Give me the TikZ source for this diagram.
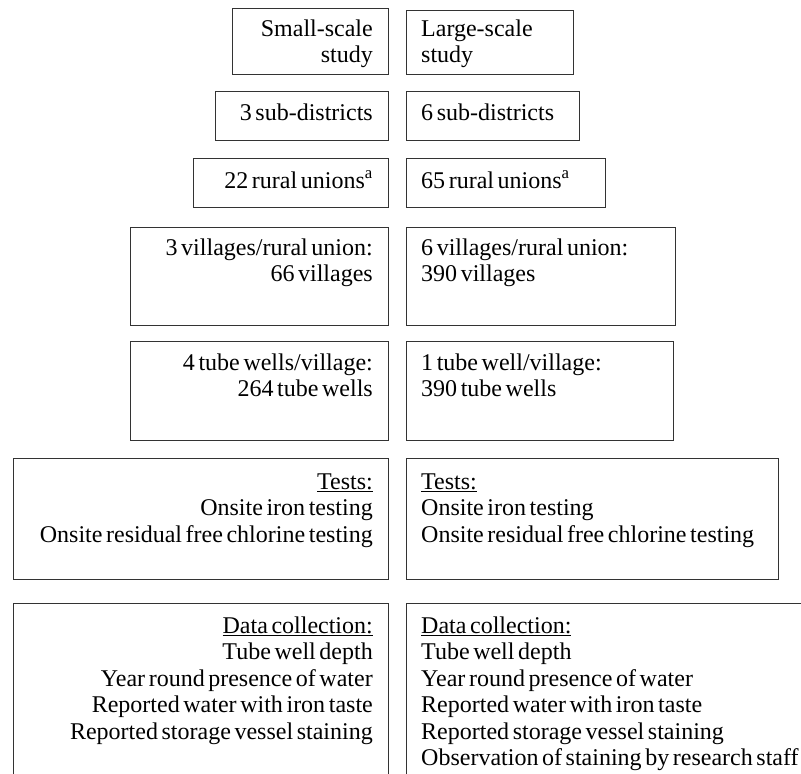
\documentclass[tikz,border=0pt]{standalone}
\usepackage{fontspec}
\setmainfont{Liberation Serif}[WordSpace=0.6]
\begin{document}
\begin{tikzpicture}[x=1pt,y=-1pt,
  box/.style={draw=black!80, line width=1.3pt, rectangle, anchor=north west, inner sep=0pt},
  lt/.style={anchor=base east, inner sep=0pt, font=\fontsize{24}{26.5}\selectfont},
  rt/.style={anchor=base west, inner sep=0pt, font=\fontsize{24}{26.5}\selectfont}]
\useasboundingbox (0,0) rectangle (801,774);
\clip (0,0) rectangle (801,774);
\fill[white] (0,0) rectangle (801,774);
% row 1
\node[box, minimum width=156pt, minimum height=66pt] (L1) at (232,8) {};
\node[box, minimum width=167pt, minimum height=64pt] (R1) at (406,10) {};
\node[lt] (L1t) at (373,36) {\begin{tabular}[t]{@{}r@{}}Small-scale\\study\end{tabular}};
\node[rt] (R1t) at (421,36) {\begin{tabular}[t]{@{}l@{}}Large-scale\\study\end{tabular}};
% row 2
\node[box, minimum width=173pt, minimum height=49pt] (L2) at (215,91) {};
\node[box, minimum width=173pt, minimum height=49pt] (R2) at (406,91) {};
\node[lt] (L2t) at (373,120) {3 sub-districts};
\node[rt] (R2t) at (421,120) {6 sub-districts};
% row 3
\node[box, minimum width=195pt, minimum height=49pt] (L3) at (193,158) {};
\node[box, minimum width=199pt, minimum height=49pt] (R3) at (406,158) {};
\node[lt] (L3t) at (373,188) {22 rural unions\textsuperscript{a}};
\node[rt] (R3t) at (421,188) {65 rural unions\textsuperscript{a}};
% row 4
\node[box, minimum width=258pt, minimum height=98pt] (L4) at (130,227) {};
\node[box, minimum width=269pt, minimum height=98pt] (R4) at (406,227) {};
\node[lt] (L4t) at (373,255) {\begin{tabular}[t]{@{}r@{}}3 villages/rural union:\\66 villages\end{tabular}};
\node[rt] (R4t) at (421,255) {\begin{tabular}[t]{@{}l@{}}6 villages/rural union:\\390 villages\end{tabular}};
% row 5
\node[box, minimum width=258pt, minimum height=99pt] (L5) at (130,341) {};
\node[box, minimum width=267pt, minimum height=99pt] (R5) at (406,341) {};
\node[lt] (L5t) at (373,370) {\begin{tabular}[t]{@{}r@{}}4 tube wells/village:\\264 tube wells\end{tabular}};
\node[rt] (R5t) at (421,370) {\begin{tabular}[t]{@{}l@{}}1 tube well/village:\\390 tube wells\end{tabular}};
% row 6
\node[box, minimum width=375pt, minimum height=121pt] (L6) at (13,458) {};
\node[box, minimum width=372pt, minimum height=121pt] (R6) at (406,458) {};
\node[lt] (L6t) at (373,489) {\begin{tabular}[t]{@{}r@{}}\underline{Tests:}\\Onsite iron testing\\Onsite residual free chlorine testing\end{tabular}};
\node[rt] (R6t) at (421,489) {\begin{tabular}[t]{@{}l@{}}\underline{Tests:}\\Onsite iron testing\\Onsite residual free chlorine testing\end{tabular}};
% row 7
\node[box, minimum width=375pt, minimum height=190pt] (L7) at (13,603) {};
\node[box, minimum width=420pt, minimum height=190pt] (R7) at (406,603) {};
\node[lt] (L7t) at (373,633) {\begin{tabular}[t]{@{}r@{}}\underline{Data collection:}\\Tube well depth\\Year round presence of water\\Reported water with iron taste\\Reported storage vessel staining\end{tabular}};
\node[rt] (R7t) at (421,633) {\begin{tabular}[t]{@{}l@{}}\underline{Data collection:}\\Tube well depth\\Year round presence of water\\Reported water with iron taste\\Reported storage vessel staining\\Observation of staining by research staff\end{tabular}};
\end{tikzpicture}
\end{document}
